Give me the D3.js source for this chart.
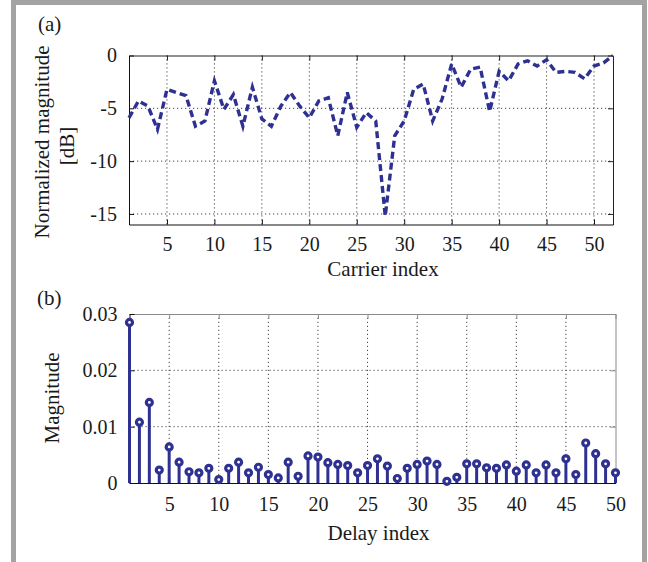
<!DOCTYPE html>
<html>
<head>
<meta charset="utf-8">
<script src="https://cdn.jsdelivr.net/npm/d3@7"></script>
<style>
  body { margin: 0; background: #fff; }
  svg { display: block; font-family: "Liberation Serif", "Times New Roman", serif; }
</style>
</head>
<body>
<div id="chart"></div>
<script>
// (a) normalized magnitude per carrier (carrier index = position + 1)
const magnitudeDb = [
  -5.9, -4.3, -4.8, -7.0, -3.2, -3.5, -3.8, -6.7, -6.2, -2.4,
  -5.1, -3.7, -6.7, -3.0, -6.0, -6.7, -4.8, -3.5, -4.8, -5.9,
  -4.3, -4.0, -7.6, -3.5, -6.8, -5.4, -6.2, -15.2, -7.6, -6.2,
  -3.2, -2.7, -6.2, -4.1, -0.8, -3.0, -1.3, -1.1, -5.3, -1.5,
  -2.4, -0.8, -0.5, -1.0, -0.4, -1.6, -1.5, -1.6, -2.2, -1.0,
  -0.7, 0.0
];

// (b) magnitude per delay tap (delay index = position + 1)
const delayMagnitude = [
  0.0285, 0.0108, 0.0143, 0.0023, 0.0064, 0.0037, 0.0020, 0.0018, 0.0026, 0.0006,
  0.0026, 0.0037, 0.0018, 0.0028, 0.0015, 0.0009, 0.0037, 0.0012, 0.0048, 0.0046,
  0.0036, 0.0033, 0.0031, 0.0018, 0.0031, 0.0043, 0.0030, 0.0008, 0.0026, 0.0033,
  0.0039, 0.0033, 0.0003, 0.0010, 0.0034, 0.0034, 0.0027, 0.0026, 0.0032, 0.0021,
  0.0032, 0.0018, 0.0032, 0.0018, 0.0043, 0.0015, 0.0071, 0.0052, 0.0034, 0.0018
];

const carrierTicks = [5, 10, 15, 20, 25, 30, 35, 40, 45, 50];
const dbTicks = [0, -5, -10, -15];
const delayTicks = [5, 10, 15, 20, 25, 30, 35, 40, 45, 50];
const magTicks = [0, 0.01, 0.02, 0.03];

const width = 648, height = 562;
const navy = '#2e3192';

const svg = d3.select('#chart').append('svg')
  .attr('width', width)
  .attr('height', height);

// outer grey frame
svg.append('rect')
  .attr('x', 13.5).attr('y', 2.5)
  .attr('width', 631).attr('height', 562)
  .attr('fill', '#fff')
  .attr('stroke', '#a3a3a3')
  .attr('stroke-width', 5);

// draws grid, inward ticks and box for one panel
function drawFrame(x, y, xTicks, yTicks, yFormat, boxColor, xPad) {
  const [x0, x1] = x.range();
  const [y0, y1] = y.range(); // y0 bottom, y1 top
  const g = svg.append('g');

  // grid
  g.selectAll('.vgrid')
    .data(xTicks.filter(t => x(t) > x0 + 1 && x(t) < x1 - 1))
    .join('line')
    .attr('x1', d => x(d)).attr('x2', d => x(d))
    .attr('y1', y0).attr('y2', y1)
    .attr('stroke', '#444').attr('stroke-width', 1)
    .attr('stroke-dasharray', '1.2,2.8');
  g.selectAll('.hgrid')
    .data(yTicks.filter(t => y(t) < y0 - 1 && y(t) > y1 + 1))
    .join('line')
    .attr('x1', x0).attr('x2', x1)
    .attr('y1', d => y(d)).attr('y2', d => y(d))
    .attr('stroke', '#444').attr('stroke-width', 1)
    .attr('stroke-dasharray', '1.2,2.8');

  // top / right box with inward ticks
  const top = g.append('g').attr('transform', `translate(0,${y1})`)
    .call(d3.axisTop(x).tickValues(xTicks).tickSizeInner(-5).tickSizeOuter(0).tickFormat(''));
  const right = g.append('g').attr('transform', `translate(${x1},0)`)
    .call(d3.axisRight(y).tickValues(yTicks).tickSizeInner(-5).tickSizeOuter(0).tickFormat(''));
  [top, right].forEach(a => a.selectAll('path, line').attr('stroke', boxColor));

  // bottom / left axes with labels
  const bottom = g.append('g').attr('transform', `translate(0,${y0})`)
    .call(d3.axisBottom(x).tickValues(xTicks).tickSizeInner(-5).tickSizeOuter(0).tickPadding(xPad));
  const left = g.append('g').attr('transform', `translate(${x0},0)`)
    .call(d3.axisLeft(y).tickValues(yTicks).tickSizeInner(-5).tickSizeOuter(0).tickPadding(12).tickFormat(yFormat));
  [bottom, left].forEach(a => {
    a.attr('font-family', null).attr('font-size', 20);
    a.selectAll('path, line').attr('stroke', '#111');
    a.selectAll('text').attr('fill', '#1a1a1a');
  });
  return g;
}

// ---- panel (a) ----
const xA = d3.scaleLinear().domain([1, 52]).range([129, 613]);
const yA = d3.scaleLinear().domain([-16, 0]).range([224.5, 55.5]);

drawFrame(xA, yA, carrierTicks, dbTicks, d => d, '#222', 12);

const line = d3.line()
  .x((d, i) => xA(i + 1))
  .y(d => yA(d));

svg.append('path')
  .datum(magnitudeDb)
  .attr('d', line)
  .attr('fill', 'none')
  .attr('stroke', navy)
  .attr('stroke-width', 3.4)
  .attr('stroke-dasharray', '7,4');

svg.append('text').attr('x', 38).attr('y', 31).attr('font-size', 21).attr('fill', '#1a1a1a').text('(a)');
svg.append('text')
  .attr('transform', 'translate(49,142) rotate(-90)')
  .attr('text-anchor', 'middle').attr('font-size', 21).attr('fill', '#1a1a1a')
  .text('Normalized magnitude');
svg.append('text')
  .attr('transform', 'translate(74,146) rotate(-90)')
  .attr('text-anchor', 'middle').attr('font-size', 21).attr('fill', '#1a1a1a')
  .text('[dB]');
svg.append('text').attr('x', 383).attr('y', 276).attr('text-anchor', 'middle')
  .attr('font-size', 21).attr('fill', '#1a1a1a').text('Carrier index');

// ---- panel (b) ----
const xB = d3.scaleLinear().domain([1, 50]).range([129.5, 615.5]);
const yB = d3.scaleLinear().domain([0, 0.03]).range([483, 314]);

drawFrame(xB, yB, delayTicks, magTicks, d => d === 0 ? '0' : d3.format('.2f')(d), '#8a8a8a', 14);

const stems = svg.append('g');
stems.selectAll('line')
  .data(delayMagnitude)
  .join('line')
  .attr('x1', (d, i) => xB(i + 1)).attr('x2', (d, i) => xB(i + 1))
  .attr('y1', yB(0)).attr('y2', d => yB(d))
  .attr('stroke', navy)
  .attr('stroke-width', 3);
stems.selectAll('circle')
  .data(delayMagnitude)
  .join('circle')
  .attr('cx', (d, i) => xB(i + 1))
  .attr('cy', d => yB(d))
  .attr('r', 3)
  .attr('fill', '#fff')
  .attr('stroke', navy)
  .attr('stroke-width', 3.2);

svg.append('text').attr('x', 37).attr('y', 305).attr('font-size', 21).attr('fill', '#1a1a1a').text('(b)');
svg.append('text')
  .attr('transform', 'translate(59,398) rotate(-90)')
  .attr('text-anchor', 'middle').attr('font-size', 21).attr('fill', '#1a1a1a')
  .text('Magnitude');
svg.append('text').attr('x', 378.5).attr('y', 540).attr('text-anchor', 'middle')
  .attr('font-size', 21).attr('fill', '#1a1a1a').text('Delay index');
</script>
</body>
</html>
